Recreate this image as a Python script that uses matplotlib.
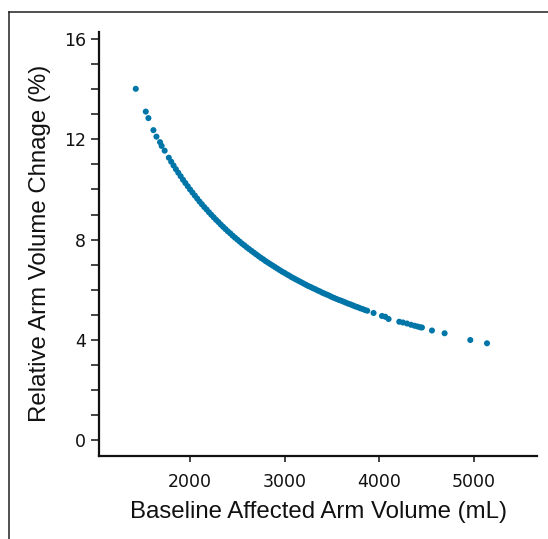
import matplotlib
matplotlib.use("Agg")
import matplotlib.pyplot as plt
from matplotlib.lines import Line2D
from matplotlib.ticker import MultipleLocator, FixedLocator

# Baseline affected arm volume (mL)
volume = [1425, 1531, 1559, 1612, 1644, 1682, 1699, 1731,
          1775, 1800, 1825, 1850, 1875, 1900, 1925, 1950, 1975, 2000,
          2025, 2050, 2075, 2100, 2125, 2150, 2175, 2200, 2225, 2250,
          2275, 2300, 2325, 2350, 2375, 2400, 2425, 2450, 2475, 2500,
          2525, 2550, 2575, 2600, 2625, 2650, 2675, 2700, 2725, 2750,
          2775, 2800, 2825, 2850, 2875, 2900, 2925, 2950, 2975, 3000,
          3025, 3050, 3075, 3100, 3125, 3150, 3175, 3200, 3225, 3250,
          3275, 3300, 3325, 3350, 3375, 3400, 3425, 3450, 3475, 3500,
          3525, 3550, 3575, 3600, 3625, 3650, 3675, 3700, 3725, 3750,
          3775, 3800, 3825, 3850, 3875,
          3942, 4031, 4066, 4101, 4214, 4253, 4296, 4338, 4376, 4408,
          4436, 4454, 4560, 4694, 4966, 5143]

# Relative arm volume change (%)
change = [14.02, 13.11, 12.85, 12.37, 12.11, 11.89, 11.74, 11.55,
          11.27, 11.11, 10.96, 10.81, 10.67, 10.53, 10.39, 10.26, 10.13, 10.00,
          9.88, 9.76, 9.64, 9.52, 9.41, 9.30, 9.20, 9.09, 8.99, 8.89,
          8.79, 8.70, 8.60, 8.51, 8.42, 8.33, 8.25, 8.16, 8.08, 8.00,
          7.92, 7.84, 7.77, 7.69, 7.62, 7.55, 7.48, 7.41, 7.34, 7.27,
          7.21, 7.14, 7.08, 7.02, 6.96, 6.90, 6.84, 6.78, 6.72, 6.67,
          6.61, 6.56, 6.50, 6.45, 6.40, 6.35, 6.30, 6.25, 6.20, 6.15,
          6.11, 6.06, 6.02, 5.97, 5.93, 5.88, 5.84, 5.80, 5.76, 5.71,
          5.67, 5.63, 5.59, 5.56, 5.52, 5.48, 5.44, 5.41, 5.37, 5.33,
          5.30, 5.26, 5.23, 5.19, 5.16,
          5.07, 4.95, 4.92, 4.83, 4.72, 4.69, 4.65, 4.60, 4.56, 4.53,
          4.50, 4.49, 4.37, 4.26, 3.99, 3.86]

x_ticks = [2000, 3000, 4000, 5000]
y_ticks = [0, 4, 8, 12, 16]

W, H = 548, 539
fig = plt.figure(figsize=(W / 100, H / 100), dpi=100)
ax = fig.add_axes([99 / W, 1 - 456 / H, (537 - 99) / W, (456 - 31.7) / H])

ax.scatter(volume, change, s=19, color="#0076a8", edgecolors="none", zorder=3)

ax.set_xlim(1036, 5672)
ax.set_ylim(-0.64, 16.3)

ax.xaxis.set_major_locator(FixedLocator(x_ticks))
ax.yaxis.set_major_locator(FixedLocator(y_ticks))
ax.yaxis.set_minor_locator(MultipleLocator(1))

for s in ["top", "right"]:
    ax.spines[s].set_visible(False)
for s in ["left", "bottom"]:
    ax.spines[s].set_linewidth(1.6)
    ax.spines[s].set_color("#111111")

ax.tick_params(axis="both", which="both", direction="out", width=1.1,
               color="#111111", labelsize=12.5, pad=4)
ax.tick_params(axis="y", which="both", length=5.5)
ax.tick_params(axis="x", which="major", length=4.5, pad=8)

tick_font = ["DejaVu Sans"]
for lab in ax.get_xticklabels() + ax.get_yticklabels():
    lab.set_family(tick_font)
    lab.set_color("#111111")

label_font = ["Liberation Sans Narrow", "Liberation Sans", "DejaVu Sans"]
ax.set_xlabel("Baseline Affected Arm Volume (mL)", family=label_font,
              fontsize=17.3, color="#111111", labelpad=7)
ax.set_ylabel("Relative Arm Volume Chnage (%)", family=label_font,
              fontsize=17.3, color="#111111", labelpad=9)

# panel border (top and left edges visible)
fig.add_artist(Line2D([9 / W, 9 / W], [0, 1 - 12 / H], transform=fig.transFigure,
                      color="#222222", linewidth=1.1))
fig.add_artist(Line2D([9 / W, 1], [1 - 12 / H, 1 - 12 / H], transform=fig.transFigure,
                      color="#222222", linewidth=1.1))

fig.savefig("out.png", dpi=100)
